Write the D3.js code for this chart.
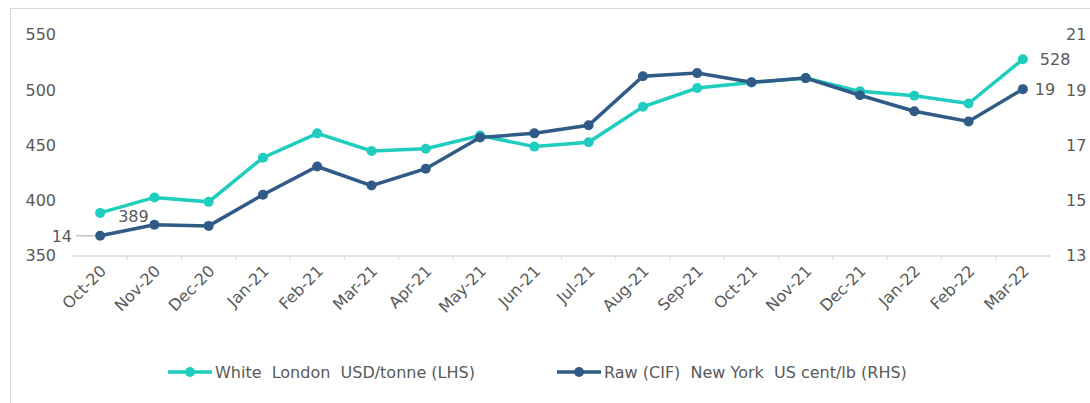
<!DOCTYPE html>
<html>
<head>
<meta charset="utf-8">
<script src="https://cdn.jsdelivr.net/npm/d3@7"></script>
<style>
  body { margin: 0; background: #fff; }
  text { font-family: "DejaVu Sans", Verdana, sans-serif; fill: #595959; }
</style>
</head>
<body>
<div id="chart"></div>
<script>

var months = ["Oct-20", "Nov-20", "Dec-20", "Jan-21", "Feb-21", "Mar-21", "Apr-21", "May-21", "Jun-21",
    "Jul-21", "Aug-21", "Sep-21", "Oct-21", "Nov-21", "Dec-21", "Jan-22", "Feb-22", "Mar-22"];
var whiteLondon = [389, 403, 399, 439, 461, 445, 447, 459, 449, 453, 485, 502, 507, 511, 499, 495, 488, 528];
var rawNewYork = [13.73, 14.13, 14.09, 15.22, 16.24, 15.55, 16.16, 17.29, 17.44, 17.73, 19.51, 19.62, 19.29, 19.44, 18.82, 18.24, 17.87, 19.04];
var leftTicks = [350, 400, 450, 500, 550];
var rightTicks = [13, 15, 17, 19, 21];
var seriesNames = ["White  London  USD/tonne (LHS)", "Raw (CIF)  New York  US cent/lb (RHS)"];

var width = 1090, height = 403;
var teal = "#1fcdbf", navy = "#2f5b86";

var svg = d3.select("#chart").append("svg")
    .attr("width", width)
    .attr("height", height);

// frame
svg.append("rect")
    .attr("x", 10.5).attr("y", 8.5)
    .attr("width", width).attr("height", height)
    .attr("fill", "none")
    .attr("stroke", "#d9d9d9");

var x = d3.scaleBand()
    .domain(months)
    .range([73, 1050]);

var yLeft = d3.scaleLinear()
    .domain([350, 550])
    .range([256, 35]);

var yRight = d3.scaleLinear()
    .domain([13, 21])
    .range([256, 35]);

// left axis labels
svg.append("g")
    .attr("transform", "translate(56, 0)")
    .call(d3.axisLeft(yLeft).tickValues(leftTicks).tickSize(0).tickPadding(0))
    .call(function(g) { g.select(".domain").remove(); })
    .selectAll("text")
    .style("font-size", "16px")
    .attr("dy", "0.3em");

// right axis labels
svg.append("g")
    .attr("transform", "translate(1066, 0)")
    .call(d3.axisRight(yRight).tickValues(rightTicks).tickSize(0).tickPadding(0))
    .call(function(g) { g.select(".domain").remove(); })
    .selectAll("text")
    .style("font-size", "16px")
    .attr("dy", "0.3em");

// category axis
var xAxis = svg.append("g")
    .attr("transform", "translate(0, 256)");

xAxis.append("line")
    .attr("x1", 73).attr("x2", 1050)
    .attr("stroke", "#d9d9d9")
    .attr("stroke-width", 1.5);

xAxis.selectAll(".tick-mark")
    .data(months.slice(1))
    .enter().append("line")
    .attr("x1", function(d) { return x(d); })
    .attr("x2", function(d) { return x(d); })
    .attr("y1", 0).attr("y2", 4)
    .attr("stroke", "#d9d9d9");

xAxis.selectAll(".label")
    .data(months)
    .enter().append("text")
    .attr("text-anchor", "end")
    .attr("transform", function(d) {
        return "translate(" + (x(d) + x.bandwidth() / 2 + 7) + ", 16) rotate(-45)";
    })
    .style("font-size", "16px")
    .text(function(d) { return d; });

function cx(d, i) { return x(months[i]) + x.bandwidth() / 2; }

var lineWhite = d3.line()
    .x(cx)
    .y(function(d) { return yLeft(d); });

var lineRaw = d3.line()
    .x(cx)
    .y(function(d) { return yRight(d); });

svg.append("path")
    .datum(whiteLondon)
    .attr("d", lineWhite)
    .attr("fill", "none")
    .attr("stroke", teal)
    .attr("stroke-width", 3.5);

svg.selectAll(".dot-white")
    .data(whiteLondon)
    .enter().append("circle")
    .attr("cx", cx)
    .attr("cy", function(d) { return yLeft(d); })
    .attr("r", 5)
    .attr("fill", teal);

svg.append("path")
    .datum(rawNewYork)
    .attr("d", lineRaw)
    .attr("fill", "none")
    .attr("stroke", navy)
    .attr("stroke-width", 3.5);

svg.selectAll(".dot-raw")
    .data(rawNewYork)
    .enter().append("circle")
    .attr("cx", cx)
    .attr("cy", function(d) { return yRight(d); })
    .attr("r", 5)
    .attr("fill", navy);

// data labels
var first = 0, last = months.length - 1;

svg.append("text")
    .attr("x", cx(null, first) + 18)
    .attr("y", yLeft(whiteLondon[first]) + 9)
    .style("font-size", "16px")
    .text(Math.round(whiteLondon[first]));

svg.append("line")
    .attr("x1", 76).attr("x2", cx(null, first) - 5)
    .attr("y1", yRight(rawNewYork[first])).attr("y2", yRight(rawNewYork[first]))
    .attr("stroke", "#a6a6a6");

svg.append("text")
    .attr("x", 72)
    .attr("y", yRight(rawNewYork[first]) + 6)
    .attr("text-anchor", "end")
    .style("font-size", "16px")
    .text(Math.round(rawNewYork[first]));

svg.append("text")
    .attr("x", cx(null, last) + 17)
    .attr("y", yLeft(whiteLondon[last]) + 6)
    .style("font-size", "16px")
    .text(Math.round(whiteLondon[last]));

svg.append("text")
    .attr("x", cx(null, last) + 12)
    .attr("y", yRight(rawNewYork[last]) + 6)
    .style("font-size", "16px")
    .text(Math.round(rawNewYork[last]));

// legend
var legend = svg.selectAll(".legend")
    .data(seriesNames)
    .enter().append("g")
    .attr("transform", function(d, i) { return "translate(" + (i === 0 ? 168 : 557) + ", 372)"; });

legend.append("line")
    .attr("x1", 0).attr("x2", 44)
    .attr("stroke", function(d, i) { return i === 0 ? teal : navy; })
    .attr("stroke-width", 3.5);

legend.append("circle")
    .attr("cx", 22)
    .attr("r", 5)
    .attr("fill", function(d, i) { return i === 0 ? teal : navy; });

legend.append("text")
    .attr("x", 47)
    .attr("dy", "0.35em")
    .style("font-size", "16px")
    .style("white-space", "pre")
    .text(function(d) { return d; });

</script>
</body>
</html>
